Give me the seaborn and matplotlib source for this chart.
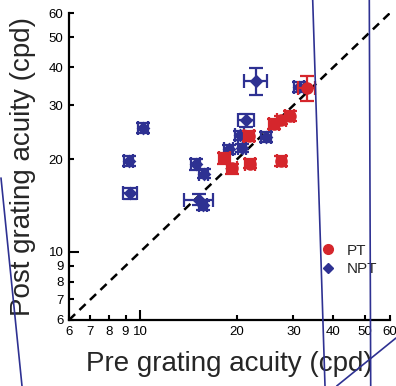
import numpy as np
import pandas as pd
import matplotlib
matplotlib.use("Agg")
import matplotlib.pyplot as plt
from matplotlib.lines import Line2D
import seaborn as sns

# ---------------- data ----------------
NPT_PRE = [22.9, 31.3, 21.4, 20.4, 24.7, 18.9, 20.8, 14.9, 15.8, 10.2, 9.2, 9.3, 15.3, 15.7]
NPT_POST = [36.1, 34.5, 26.9, 24.0, 23.7, 21.6, 21.8, 19.3, 18.0, 25.3, 19.8, 15.5, 14.8, 14.2]
NPT_PRE_ERR = [1.9, 1.1, 1.2, 0.7, 0.9, 0.6, 0.6, 0.5, 0.5, 0.35, 0.3, 0.45, 1.6, 0.5]
NPT_POST_ERR = [3.6, 1.2, 1.3, 0.8, 0.9, 0.7, 0.7, 0.8, 0.6, 0.9, 0.7, 0.6, 0.6, 0.5]

PT_PRE = [33.0, 29.2, 27.5, 26.1, 21.9, 18.3, 19.3, 22.0, 27.5]
PT_POST = [34.1, 27.7, 26.9, 26.1, 23.9, 20.2, 18.7, 19.4, 19.8]
PT_PRE_ERR = [2.0, 1.0, 0.9, 0.9, 0.8, 0.7, 0.7, 0.8, 0.9]
PT_POST_ERR = [3.2, 1.0, 0.9, 0.9, 0.9, 0.8, 0.7, 0.7, 0.7]

GROUPS = ["NPT", "PT"]
LIMITS = [6, 60]
MAJOR_TICKS = [10]
MINOR_TICKS = [6, 7, 8, 9, 20, 30, 40, 50, 60]

RED = "#d5262c"
BLUE = "#2e3192"

df = pd.concat([
    pd.DataFrame({"pre": NPT_PRE, "post": NPT_POST, "xerr": NPT_PRE_ERR,
                  "yerr": NPT_POST_ERR, "group": "NPT"}),
    pd.DataFrame({"pre": PT_PRE, "post": PT_POST, "xerr": PT_PRE_ERR,
                  "yerr": PT_POST_ERR, "group": "PT"}),
], ignore_index=True)

sns.set_theme(style="ticks")
plt.rcParams["font.family"] = ["Liberation Sans", "DejaVu Sans"]

fig = plt.figure(figsize=(3.96, 3.86), dpi=100)
ax = fig.add_axes([0.1742, 0.171, 0.8106, 0.7953])

style = {"NPT": dict(color=BLUE, marker="D", ms=7),
         "PT": dict(color=RED, marker="o", ms=9)}

for g in GROUPS:
    sub = df[df["group"] == g]
    ax.errorbar(sub["pre"], sub["post"], xerr=sub["xerr"], yerr=sub["yerr"],
                fmt="none", ecolor=style[g]["color"], elinewidth=1.6,
                capsize=4.8, capthick=1.6, zorder=2 if g == "NPT" else 4)
    sns.scatterplot(data=sub, x="pre", y="post", ax=ax, color=style[g]["color"],
                    marker=style[g]["marker"], s=style[g]["ms"] ** 2,
                    edgecolor=style[g]["color"], linewidth=0,
                    zorder=3 if g == "NPT" else 5, legend=False)

# identity line
ax.plot(LIMITS, LIMITS, color="black", lw=1.8, ls=(0, (3.4, 2.4)), zorder=1)

ax.set_xscale("log")
ax.set_yscale("log")
ax.set_xlim(LIMITS)
ax.set_ylim(LIMITS)

ax.set_xticks(MAJOR_TICKS)
ax.set_xticklabels([str(t) for t in MAJOR_TICKS])
ax.set_xticks(MINOR_TICKS, minor=True)
ax.set_xticklabels([str(t) for t in MINOR_TICKS], minor=True)
ax.set_yticks(MAJOR_TICKS)
ax.set_yticklabels([str(t) for t in MAJOR_TICKS])
ax.set_yticks(MINOR_TICKS, minor=True)
ax.set_yticklabels([str(t) for t in MINOR_TICKS], minor=True)

ax.tick_params(which="both", direction="in", width=1.5, labelsize=9.5,
               color="black", labelcolor="black", pad=4)
ax.tick_params(which="major", length=7)
ax.tick_params(which="minor", length=3.5)

sns.despine(ax=ax)
for s in ["left", "bottom"]:
    ax.spines[s].set_linewidth(1.6)
    ax.spines[s].set_color("black")

ax.set_xlabel("Pre grating acuity (cpd)", fontsize=20, labelpad=10)
ax.set_ylabel("Post grating acuity (cpd)", fontsize=20, labelpad=9)

handles = [Line2D([], [], ls="none", marker="o", color=RED, ms=7),
           Line2D([], [], ls="none", marker="D", color=BLUE, ms=5.5)]
ax.legend(handles, ["PT", "NPT"], loc="center left", bbox_to_anchor=(0.755, 0.195),
          frameon=False, fontsize=11, handletextpad=0.6, handlelength=1.2,
          labelspacing=0.3, borderpad=0)

# stray navy strokes present in the source image (figure pixel coords)
W, H = 396, 386
STRAY = [((1, 178), (22, 386)), ((312.7, 0), (325, 386)),
         ((369.3, 0), (370.7, 386)), ((336.7, 386), (396, 338))]
for (x0, y0), (x1, y1) in STRAY:
    fig.add_artist(Line2D([x0 / W, x1 / W], [1 - y0 / H, 1 - y1 / H],
                          transform=fig.transFigure, color=BLUE, lw=1.2, zorder=10))

fig.savefig("out.png", dpi=100)
